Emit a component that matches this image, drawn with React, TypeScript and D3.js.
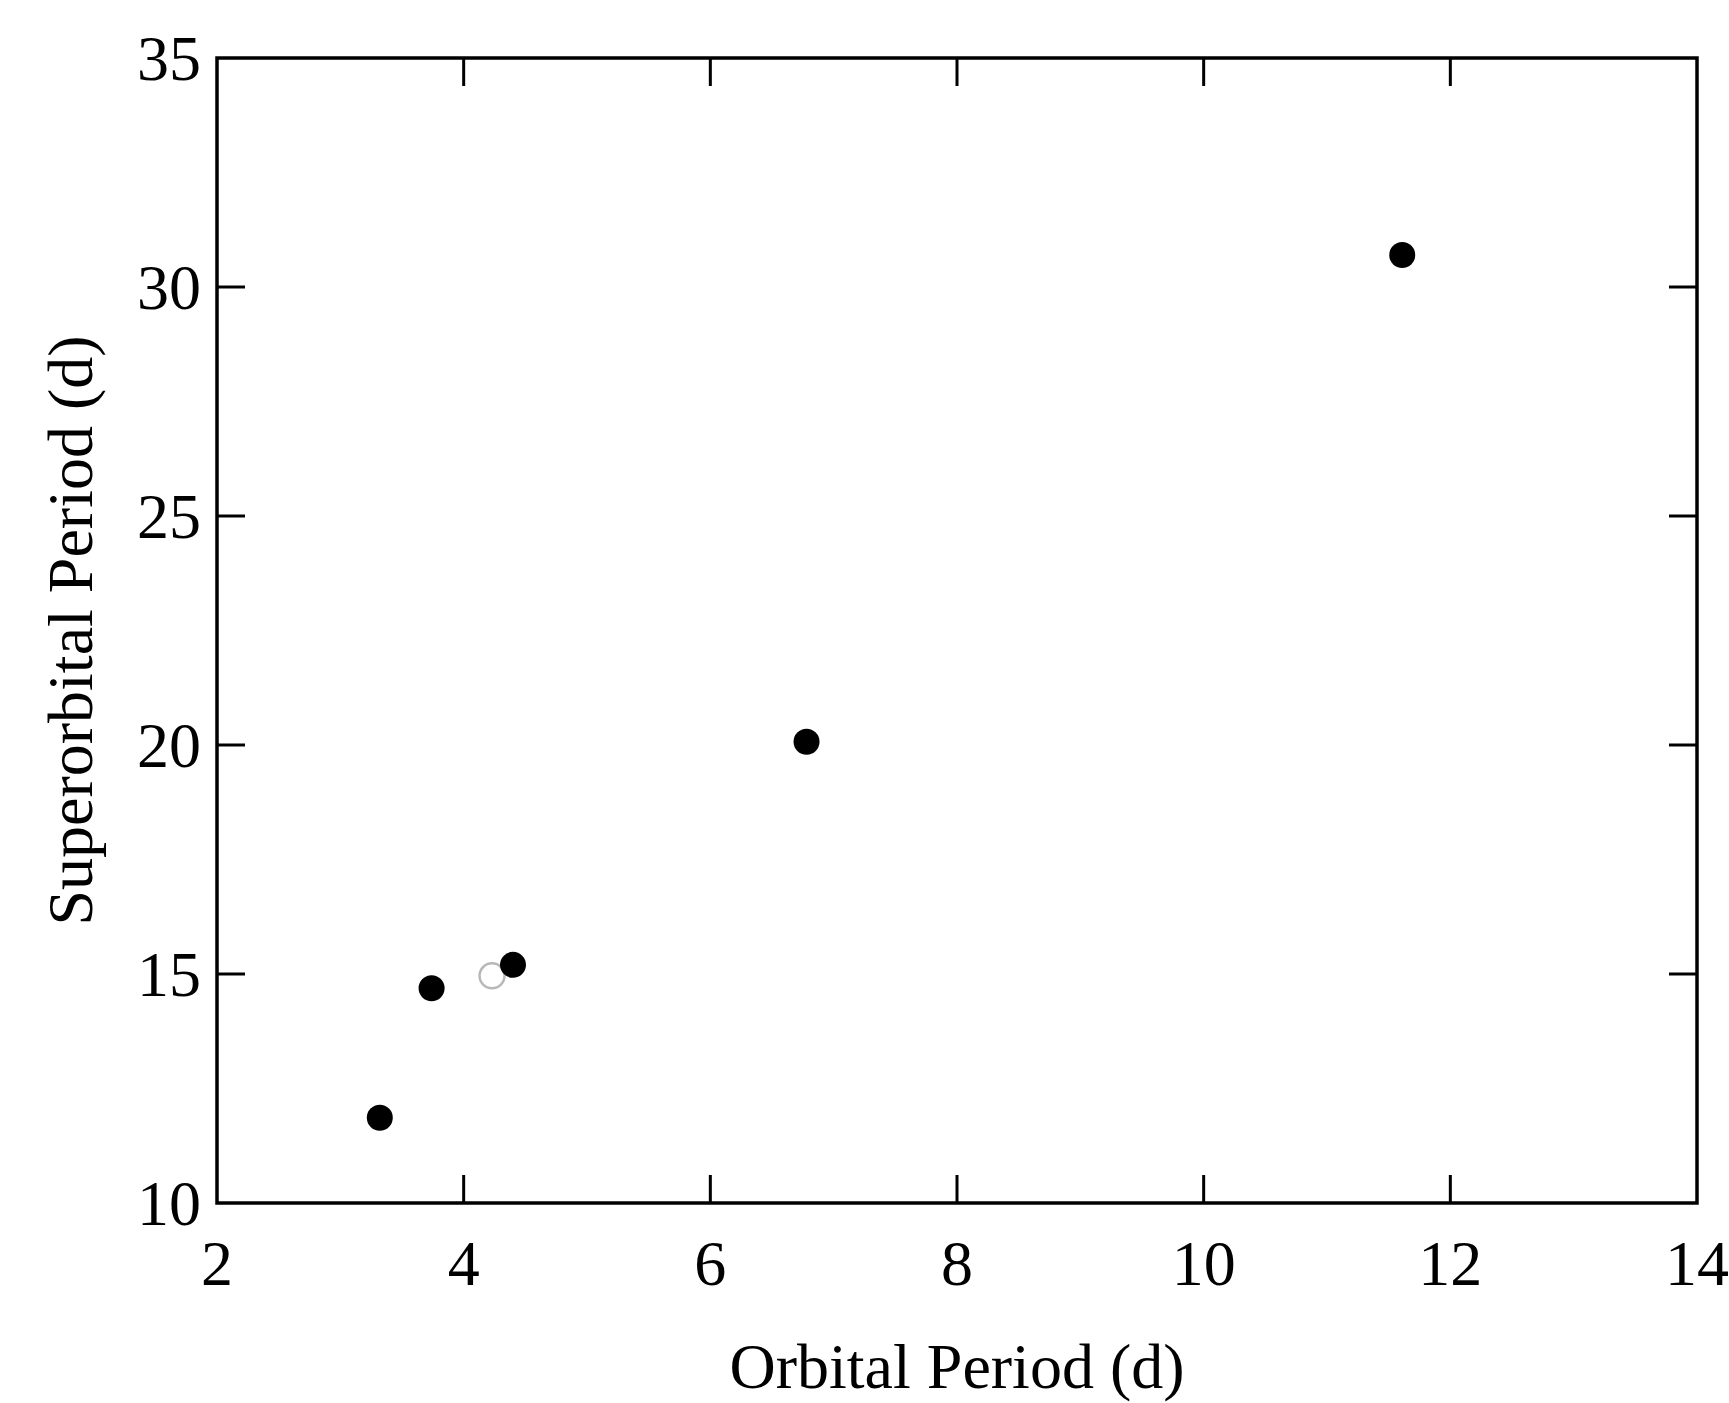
import React from "react";
import * as d3 from "d3";

// orbital period (d) vs superorbital period (d)
const orbitalFilled = [3.32, 3.74, 4.4, 6.78, 11.61];
const superFilled = [11.86, 14.69, 15.2, 20.07, 30.7];
const orbitalOpen = [4.23];
const superOpen = [14.96];

const xTicks = [2, 4, 6, 8, 10, 12, 14];
const yTicks = [10, 15, 20, 25, 30, 35];

const width = 1729;
const height = 1403;
const margin = { left: 217, right: 32, top: 58, bottom: 200 };

const App = () => {
    const xScale = d3.scaleLinear()
        .domain([2, 14])
        .range([margin.left, width - margin.right]);

    const yScale = d3.scaleLinear()
        .domain([10, 35])
        .range([height - margin.bottom, margin.top]);

    const [x0, x1] = xScale.range();
    const [y0, y1] = yScale.range(); // y0 bottom, y1 top
    const tickLen = 28;
    const font = "'Liberation Serif', 'Times New Roman', serif";

    return (
        <>
            <style>{"body{margin:0}"}</style>
            <svg width={width} height={height} style={{ display: "block", background: "#fff" }}>
                {/* ticks, inward on all four sides */}
                {xTicks.slice(1, -1).map((t) => (
                    <g key={"xt" + t} stroke="#000" strokeWidth={3}>
                        <line x1={xScale(t)} x2={xScale(t)} y1={y0} y2={y0 - tickLen} />
                        <line x1={xScale(t)} x2={xScale(t)} y1={y1} y2={y1 + tickLen} />
                    </g>
                ))}
                {yTicks.slice(1, -1).map((t) => (
                    <g key={"yt" + t} stroke="#000" strokeWidth={3}>
                        <line x1={x0} x2={x0 + tickLen} y1={yScale(t)} y2={yScale(t)} />
                        <line x1={x1} x2={x1 - tickLen} y1={yScale(t)} y2={yScale(t)} />
                    </g>
                ))}
                <rect x={x0} y={y1} width={x1 - x0} height={y0 - y1}
                    fill="none" stroke="#000" strokeWidth={3.5} />

                {/* tick labels */}
                {xTicks.map((t) => (
                    <text key={"xl" + t} x={xScale(t)} y={1285} textAnchor="middle"
                        fontFamily={font} fontSize={64} fill="#000">{t}</text>
                ))}
                {yTicks.map((t) => (
                    <text key={"yl" + t} x={x0 - 16} y={yScale(t)} dy="0.35em" textAnchor="end"
                        fontFamily={font} fontSize={64} fill="#000">{t}</text>
                ))}

                {/* axis titles */}
                <text x={(x0 + x1) / 2} y={1388} textAnchor="middle"
                    fontFamily={font} fontSize={64} fill="#000">Orbital Period (d)</text>
                <text transform={`translate(92,${(y0 + y1) / 2}) rotate(-90)`} textAnchor="middle"
                    fontFamily={font} fontSize={64} fill="#000">Superorbital Period (d)</text>

                {/* points */}
                {orbitalOpen.map((v, i) => (
                    <circle key={"o" + i} cx={xScale(v)} cy={yScale(superOpen[i])} r={12.5}
                        fill="#fff" stroke="#b8b8b8" strokeWidth={2.5} />
                ))}
                {orbitalFilled.map((v, i) => (
                    <circle key={"f" + i} cx={xScale(v)} cy={yScale(superFilled[i])} r={13}
                        fill="#000" />
                ))}
            </svg>
        </>
    );
};

export default App;
